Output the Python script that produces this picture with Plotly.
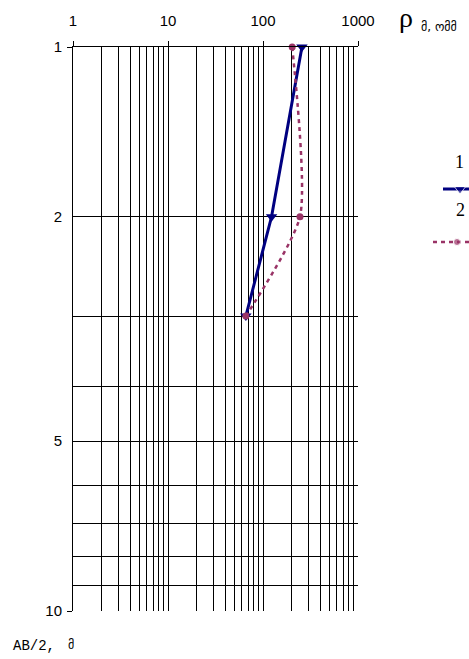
import plotly.graph_objects as go

# ---- data ----
AB2 = [1, 2, 3]                  # AB/2, m
rho_1 = [257, 123, 66]           # curve 1
rho_2 = [203, 245, 66]           # curve 2
series_names = ["1", "2"]
x_tick_vals = [1, 10, 100, 1000]
x_tick_text = ["1", "10", "100", "1000"]
y_tick_vals = [1, 2, 5, 10]
y_tick_text = ["1", "2", "5", "10"]
x_grid_vals = [m * 10 ** e for e in range(3) for m in range(1, 10)][1:]
y_grid_vals = [2, 3, 4, 5, 6, 7, 8, 9]

BLUE = "#000080"
PLUM = "#993366"

W, H = 469, 659
L, R, T, B = 73, 358, 47, 611   # plot area in screen pixels


def pxx(x):
    return x / W


def pxy(y):
    return 1 - y / H


fig = go.Figure()

fig.add_trace(go.Scatter(
    x=rho_1, y=AB2, mode="lines+markers", name=series_names[0],
    line=dict(color=BLUE, width=3),
    marker=dict(symbol="triangle-down", size=10, color=BLUE),
    cliponaxis=False, showlegend=False))
fig.add_trace(go.Scatter(
    x=rho_2, y=AB2, mode="lines+markers", name=series_names[1],
    line=dict(color=PLUM, width=2.5, dash="4px,4px", shape="spline", smoothing=0.6),
    marker=dict(symbol="circle", size=7, color=PLUM),
    cliponaxis=False, showlegend=False))

# empty traces so overlay axes exist
fig.add_trace(go.Scatter(x=[], y=[], xaxis="x2", yaxis="y2", showlegend=False, hoverinfo="skip"))
fig.add_trace(go.Scatter(x=[], y=[], xaxis="x", yaxis="y3", showlegend=False, hoverinfo="skip"))

# legend samples (decoration, screen-pixel axes)
fig.add_trace(go.Scatter(x=[443, 460, 480], y=[189, 189, 189], xaxis="x4", yaxis="y4",
                         mode="lines+markers", line=dict(color=BLUE, width=3),
                         marker=dict(symbol="triangle-down", size=[0, 10, 0], color=BLUE),
                         showlegend=False, hoverinfo="skip", cliponaxis=False))
fig.add_trace(go.Scatter(x=[433, 457, 480], y=[242, 242, 242], xaxis="x4", yaxis="y4",
                         mode="lines+markers", line=dict(color=PLUM, width=2.5, dash="4px,4px"),
                         marker=dict(symbol="circle", size=[0, 7, 0], color=PLUM),
                         showlegend=False, hoverinfo="skip", cliponaxis=False))

tickfont = dict(family="Liberation Sans", size=15, color="black")

fig.update_layout(
    width=W, height=H,
    margin=dict(l=0, r=0, t=0, b=0, autoexpand=False),
    paper_bgcolor="white", plot_bgcolor="white",
    xaxis=dict(domain=[pxx(L), pxx(R)], type="log", range=[0, 3], side="top", anchor="y",
               tickmode="array", tickvals=x_grid_vals, showticklabels=False, ticks="",
               showgrid=True, gridcolor="black", gridwidth=1,
               showline=True, linecolor="black", linewidth=1, zeroline=False),
    yaxis=dict(domain=[pxy(B), pxy(T)], type="log", range=[1, 0], anchor="x",
               tickmode="array", tickvals=y_grid_vals, showticklabels=False, ticks="",
               showgrid=True, gridcolor="black", gridwidth=1,
               showline=True, linecolor="black", linewidth=1, zeroline=False),
    xaxis2=dict(overlaying="x", side="top", anchor="y", type="log", range=[0, 3],
                tickmode="array", tickvals=x_tick_vals, ticktext=x_tick_text,
                ticks="outside", ticklen=5, tickcolor="black", tickwidth=1,
                showgrid=False, showline=False, zeroline=False,
                tickfont=tickfont, ticklabelstandoff=9),
    yaxis2=dict(overlaying="y", side="left", anchor="x", type="log", range=[1, 0],
                tickmode="array", tickvals=y_tick_vals, ticktext=y_tick_text,
                ticks="", showgrid=False, showline=False, zeroline=False,
                tickfont=tickfont, ticklabelstandoff=10),
    yaxis3=dict(overlaying="y", side="left", anchor="x", type="log", range=[1, 0],
                tickmode="array", tickvals=[1, 10], ticks="outside", ticklen=5,
                tickcolor="black", tickwidth=1, showticklabels=False,
                showgrid=False, showline=False, zeroline=False),
    xaxis4=dict(domain=[pxx(400), 1], range=[400, 469], visible=False, anchor="y4"),
    yaxis4=dict(domain=[pxy(260), pxy(150)], range=[260, 150], visible=False, anchor="x4"),
    showlegend=False,
)

ann = [
    dict(text="ρ", x=pxx(406), y=pxy(18), xanchor="center", yanchor="middle",
         font=dict(family="Liberation Serif", size=28, color="black")),
    dict(text="მ, ომმ", x=pxx(419), y=pxy(27), xanchor="left", yanchor="middle",
         font=dict(family="DejaVu Sans", size=12, color="black")),
    dict(text="AB/2,", x=pxx(11), y=pxy(646), xanchor="left", yanchor="middle",
         font=dict(family="Liberation Mono", size=14, color="black")),
    dict(text="მ", x=pxx(66), y=pxy(645), xanchor="left", yanchor="middle",
         font=dict(family="DejaVu Sans", size=12, color="black")),
    dict(text=series_names[0], x=pxx(459), y=pxy(162), xanchor="center", yanchor="middle",
         font=dict(family="Liberation Serif", size=18, color="black")),
    dict(text=series_names[1], x=pxx(460), y=pxy(210), xanchor="center", yanchor="middle",
         font=dict(family="Liberation Serif", size=18, color="black")),
]
for a in ann:
    a.update(xref="paper", yref="paper", showarrow=False)
fig.update_layout(annotations=ann)

fig.write_html("out.html",
               config={"displayModeBar": False},
               post_script="document.body.style.margin='0';document.body.style.overflow='hidden';")
